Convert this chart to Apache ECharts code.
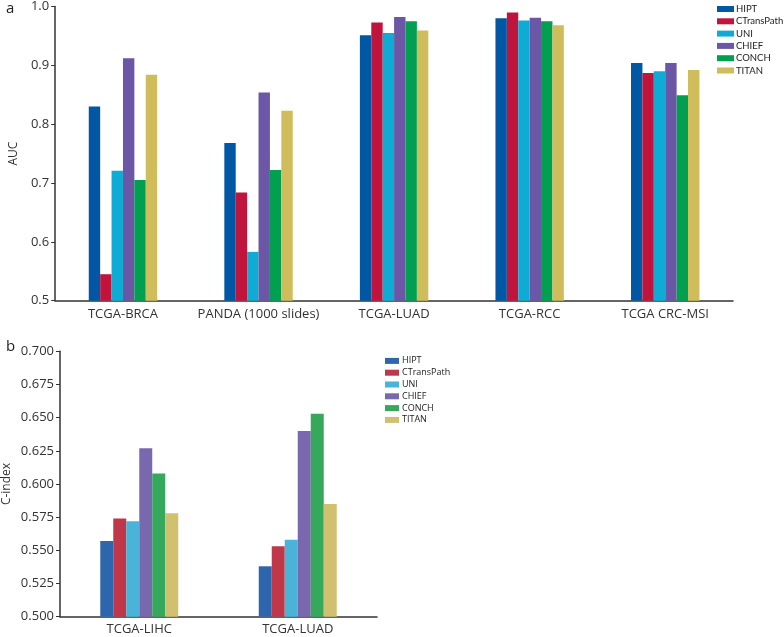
<!DOCTYPE html>
<html>
<head>
<meta charset="utf-8">
<script src="https://cdn.jsdelivr.net/npm/echarts@6/dist/echarts.min.js"></script>
<style>
  html, body { margin: 0; padding: 0; background: #fff; }
  #main { width: 784px; height: 637px; }
</style>
</head>
<body>
<div id="main"></div>
<script>
// panel a: AUC per task
const tasksA = ['TCGA-BRCA', 'PANDA (1000 slides)', 'TCGA-LUAD', 'TCGA-RCC', 'TCGA CRC-MSI']
const models = ['HIPT', 'CTransPath', 'UNI', 'CHIEF', 'CONCH', 'TITAN']
const hiptA = [0.830, 0.768, 0.951, 0.980, 0.904]
const ctransA = [0.545, 0.684, 0.973, 0.990, 0.887]
const uniA = [0.721, 0.583, 0.955, 0.976, 0.890]
const chiefA = [0.912, 0.854, 0.982, 0.981, 0.904]
const conchA = [0.705, 0.722, 0.975, 0.975, 0.849]
const titanA = [0.884, 0.823, 0.959, 0.968, 0.892]

// panel b: C-index per survival task
const tasksB = ['TCGA-LIHC', 'TCGA-LUAD']
const hiptB = [0.557, 0.538]
const ctransB = [0.574, 0.553]
const uniB = [0.572, 0.558]
const chiefB = [0.627, 0.640]
const conchB = [0.608, 0.653]
const titanB = [0.578, 0.585]

const colorsA = ['#0057a3', '#c0143c', '#0eacd4', '#6b57a5', '#00a050', '#cfbd5c']
const colorsB = ['#2e66ae', '#c0374a', '#49b3d8', '#7a68ae', '#36a85c', '#d1c06f']

const dataA = [hiptA, ctransA, uniA, chiefA, conchA, titanA]
const dataB = [hiptB, ctransB, uniB, chiefB, conchB, titanB]

const font = '"Open Sans", "Noto Sans", sans-serif'
const axisColor = '#333'

let myChart = echarts.init(document.getElementById('main'))

let series = []
models.forEach((m, i) => {
  series.push({
    name: m,
    type: 'bar',
    xAxisIndex: 0,
    yAxisIndex: 0,
    barWidth: 11.4,
    barGap: '0%',
    itemStyle: { color: colorsA[i] },
    data: dataA[i]
  })
})
models.forEach((m, i) => {
  series.push({
    name: m,
    type: 'bar',
    xAxisIndex: 1,
    yAxisIndex: 1,
    barWidth: 13,
    barGap: '0%',
    itemStyle: { color: colorsB[i] },
    data: dataB[i]
  })
})

let option = {
  animation: false,
  textStyle: { fontFamily: font },
  title: [
    { text: 'a', left: 1, top: -4, textStyle: { fontSize: 15, fontWeight: 'normal', color: '#222', fontFamily: font } },
    { text: 'b', left: 1, top: 334, textStyle: { fontSize: 15, fontWeight: 'normal', color: '#222', fontFamily: font } }
  ],
  legend: [
    {
      orient: 'vertical',
      left: 712,
      top: -2,
      itemWidth: 17,
      itemHeight: 6,
      itemGap: 0.3,
      icon: 'rect',
      textStyle: { fontFamily: 'Lato, "Open Sans", sans-serif', fontSize: 9.5, color: '#222', padding: [0, 0, 0, -3], lineHeight: 12 },
      data: models.map((m, i) => ({ name: m, itemStyle: { color: colorsA[i] } }))
    },
    {
      orient: 'vertical',
      left: 380,
      top: 350,
      itemWidth: 14,
      itemHeight: 6,
      itemGap: 0,
      icon: 'rect',
      textStyle: { fontSize: 9, color: '#222', padding: [0, 0, 0, -2], lineHeight: 11.8 },
      data: models.map((m, i) => ({ name: m, itemStyle: { color: colorsB[i] } }))
    }
  ],
  grid: [
    { left: 43, top: 5.3, width: 690, height: 295.4 },
    { left: 60, top: 351.3, width: 317, height: 265.4 }
  ],
  xAxis: [
    {
      type: 'category',
      gridIndex: 0,
      data: tasksA,
      axisLine: { lineStyle: { color: axisColor, width: 1.5 } },
      axisTick: { alignWithLabel: true, length: 4, lineStyle: { color: axisColor } },
      axisLabel: { interval: 0, fontSize: 13, color: '#333', margin: 7 }
    },
    {
      type: 'category',
      gridIndex: 1,
      data: tasksB,
      axisLine: { lineStyle: { color: axisColor, width: 1.5 } },
      axisTick: { alignWithLabel: true, length: 4, lineStyle: { color: axisColor } },
      axisLabel: { interval: 0, fontSize: 13, color: '#333', margin: 6 }
    }
  ],
  yAxis: [
    {
      type: 'value',
      gridIndex: 0,
      min: 0.5,
      max: 1.0,
      interval: 0.1,
      name: 'AUC',
      nameLocation: 'middle',
      nameGap: 34,
      nameTextStyle: { fontSize: 12, color: '#333' },
      splitLine: { show: false },
      axisLine: { show: true, lineStyle: { color: axisColor, width: 1.5 } },
      axisTick: { show: true, length: 4, lineStyle: { color: axisColor } },
      axisLabel: { fontSize: 13, color: '#333', margin: 6, formatter: v => v.toFixed(1) }
    },
    {
      type: 'value',
      gridIndex: 1,
      min: 0.5,
      max: 0.7,
      interval: 0.025,
      name: 'C-index',
      nameLocation: 'middle',
      nameGap: 47,
      nameTextStyle: { fontSize: 12, color: '#333' },
      splitLine: { show: false },
      axisLine: { show: true, lineStyle: { color: axisColor, width: 1.5 } },
      axisTick: { show: true, length: 4, lineStyle: { color: axisColor } },
      axisLabel: { fontSize: 13, color: '#333', margin: 6, formatter: v => v.toFixed(3) }
    }
  ],
  series: series
}

myChart.setOption(option)
</script>
</body>
</html>
